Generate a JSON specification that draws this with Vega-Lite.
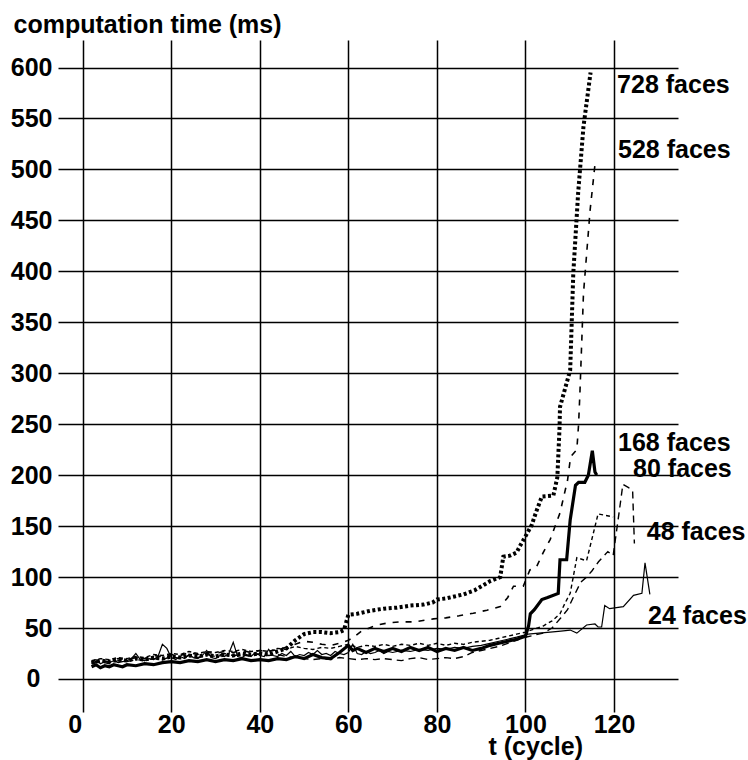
{
  "$schema": "https://vega.github.io/schema/vega-lite/v6.json",
  "width": 620,
  "height": 672,
  "padding": {"left": 58, "top": 40, "right": 70, "bottom": 48},
  "autosize": {"type": "none"},
  "background": "white",
  "config": {
    "view": {"stroke": null},
    "font": "Liberation Sans",
    "line": {"color": "black", "clip": true, "strokeCap": "butt", "strokeJoin": "miter"},
    "axis": {
      "labelFont": "Liberation Sans", "labelFontSize": 25, "labelFontWeight": "bold", "labelColor": "black",
      "titleFont": "Liberation Sans", "titleFontSize": 25, "titleFontWeight": "bold", "titleColor": "black",
      "domain": false, "ticks": false, "tickSize": 0,
      "gridColor": "black", "gridOpacity": 1, "gridWidth": 1.5
    }
  },
  "datasets": {
    "series": [
      {"s":"24","t":2,"v":17},{"s":"24","t":3,"v":19},{"s":"24","t":4,"v":15},{"s":"24","t":5,"v":17},{"s":"24","t":6,"v":16},{"s":"24","t":7,"v":18},{"s":"24","t":8,"v":16},{"s":"24","t":9,"v":17},{"s":"24","t":10,"v":18},{"s":"24","t":11,"v":20},{"s":"24","t":12,"v":25},{"s":"24","t":13,"v":19},{"s":"24","t":14,"v":18},{"s":"24","t":15,"v":20},{"s":"24","t":16,"v":19},{"s":"24","t":17,"v":22},{"s":"24","t":18,"v":34},{"s":"24","t":19,"v":30},{"s":"24","t":20,"v":21},{"s":"24","t":21,"v":19},{"s":"24","t":22,"v":22},{"s":"24","t":23,"v":20},{"s":"24","t":24,"v":24},{"s":"24","t":25,"v":21},{"s":"24","t":26,"v":20},{"s":"24","t":27,"v":23},{"s":"24","t":28,"v":28},{"s":"24","t":29,"v":21},{"s":"24","t":30,"v":20},{"s":"24","t":31,"v":23},{"s":"24","t":32,"v":22},{"s":"24","t":33,"v":25},{"s":"24","t":34,"v":36},{"s":"24","t":35,"v":22},{"s":"24","t":36,"v":21},{"s":"24","t":37,"v":24},{"s":"24","t":38,"v":22},{"s":"24","t":39,"v":26},{"s":"24","t":40,"v":23},{"s":"24","t":41,"v":22},{"s":"24","t":42,"v":29},{"s":"24","t":43,"v":23},{"s":"24","t":44,"v":22},{"s":"24","t":45,"v":25},{"s":"24","t":46,"v":23},{"s":"24","t":47,"v":27},{"s":"24","t":48,"v":22},{"s":"24","t":49,"v":24},{"s":"24","t":50,"v":23},{"s":"24","t":51,"v":26},{"s":"24","t":52,"v":24},{"s":"24","t":53,"v":28},{"s":"24","t":54,"v":24},{"s":"24","t":55,"v":25},{"s":"24","t":56,"v":23},{"s":"24","t":57,"v":27},{"s":"24","t":58,"v":25},{"s":"24","t":59,"v":24},{"s":"24","t":60,"v":26},{"s":"24","t":61,"v":34},{"s":"24","t":62,"v":25},{"s":"24","t":63,"v":24},{"s":"24","t":64,"v":27},{"s":"24","t":65,"v":25},{"s":"24","t":66,"v":26},{"s":"24","t":67,"v":28},{"s":"24","t":68,"v":25},{"s":"24","t":69,"v":27},{"s":"24","t":70,"v":26},{"s":"24","t":72,"v":28},{"s":"24","t":74,"v":27},{"s":"24","t":76,"v":29},{"s":"24","t":78,"v":28},{"s":"24","t":80,"v":30},{"s":"24","t":82,"v":29},{"s":"24","t":84,"v":31},{"s":"24","t":86,"v":30},{"s":"24","t":88,"v":32},{"s":"24","t":90,"v":33},{"s":"24","t":92,"v":35},{"s":"24","t":94,"v":37},{"s":"24","t":96,"v":39},{"s":"24","t":98,"v":41},{"s":"24","t":100.6,"v":44},{"s":"24","t":103,"v":45},{"s":"24","t":105.6,"v":46},{"s":"24","t":108,"v":47},{"s":"24","t":110.1,"v":48},{"s":"24","t":111.6,"v":45},{"s":"24","t":113.8,"v":53},{"s":"24","t":115.7,"v":54},{"s":"24","t":116.4,"v":51},{"s":"24","t":117.2,"v":51},{"s":"24","t":117.9,"v":72},{"s":"24","t":119,"v":69},{"s":"24","t":122.1,"v":71},{"s":"24","t":124.4,"v":82},{"s":"24","t":126.3,"v":84},{"s":"24","t":127,"v":114},{"s":"24","t":128.1,"v":83},

      {"s":"48","t":2,"v":15},{"s":"48","t":4,"v":17},{"s":"48","t":6,"v":15},{"s":"48","t":8,"v":18},{"s":"48","t":10,"v":17},{"s":"48","t":12,"v":19},{"s":"48","t":14,"v":18},{"s":"48","t":16,"v":20},{"s":"48","t":18,"v":19},{"s":"48","t":20,"v":22},{"s":"48","t":22,"v":20},{"s":"48","t":24,"v":23},{"s":"48","t":26,"v":21},{"s":"48","t":28,"v":24},{"s":"48","t":30,"v":22},{"s":"48","t":32,"v":25},{"s":"48","t":34,"v":23},{"s":"48","t":36,"v":24},{"s":"48","t":38,"v":22},{"s":"48","t":40,"v":25},{"s":"48","t":42,"v":23},{"s":"48","t":44,"v":24},{"s":"48","t":46,"v":22},{"s":"48","t":48,"v":21},{"s":"48","t":50,"v":20},{"s":"48","t":52,"v":19},{"s":"48","t":54,"v":20},{"s":"48","t":56,"v":19},{"s":"48","t":58,"v":21},{"s":"48","t":60,"v":20},{"s":"48","t":62,"v":19},{"s":"48","t":64,"v":20},{"s":"48","t":66,"v":19},{"s":"48","t":68,"v":20},{"s":"48","t":70,"v":19},{"s":"48","t":72,"v":18},{"s":"48","t":74,"v":20},{"s":"48","t":76,"v":21},{"s":"48","t":78,"v":19},{"s":"48","t":80,"v":20},{"s":"48","t":82,"v":21},{"s":"48","t":84,"v":20},{"s":"48","t":86,"v":22},{"s":"48","t":88,"v":26},{"s":"48","t":90,"v":28},{"s":"48","t":92,"v":30},{"s":"48","t":94,"v":32},{"s":"48","t":96,"v":35},{"s":"48","t":98,"v":38},{"s":"48","t":100,"v":41},{"s":"48","t":102,"v":43},{"s":"48","t":104,"v":45},{"s":"48","t":106,"v":50},{"s":"48","t":108,"v":60},{"s":"48","t":109.5,"v":68},{"s":"48","t":111,"v":82},{"s":"48","t":112.5,"v":95},{"s":"48","t":113.8,"v":100},{"s":"48","t":115,"v":106},{"s":"48","t":116.5,"v":115},{"s":"48","t":118.6,"v":125},{"s":"48","t":119.8,"v":121},{"s":"48","t":121.2,"v":165},{"s":"48","t":122,"v":191},{"s":"48","t":123.2,"v":188},{"s":"48","t":124.2,"v":185},{"s":"48","t":124.6,"v":133},

      {"s":"80","t":2,"v":12},{"s":"80","t":3,"v":14},{"s":"80","t":4,"v":11},{"s":"80","t":5,"v":13},{"s":"80","t":6,"v":12},{"s":"80","t":7,"v":14},{"s":"80","t":8,"v":13},{"s":"80","t":9,"v":12},{"s":"80","t":10,"v":14},{"s":"80","t":12,"v":13},{"s":"80","t":14,"v":15},{"s":"80","t":16,"v":14},{"s":"80","t":18,"v":16},{"s":"80","t":20,"v":17},{"s":"80","t":22,"v":16},{"s":"80","t":24,"v":18},{"s":"80","t":26,"v":17},{"s":"80","t":28,"v":19},{"s":"80","t":30,"v":17},{"s":"80","t":32,"v":19},{"s":"80","t":34,"v":18},{"s":"80","t":36,"v":20},{"s":"80","t":38,"v":18},{"s":"80","t":40,"v":19},{"s":"80","t":42,"v":18},{"s":"80","t":44,"v":20},{"s":"80","t":46,"v":19},{"s":"80","t":48,"v":22},{"s":"80","t":50,"v":20},{"s":"80","t":52,"v":24},{"s":"80","t":54,"v":21},{"s":"80","t":56,"v":20},{"s":"80","t":58,"v":26},{"s":"80","t":60,"v":33},{"s":"80","t":61,"v":28},{"s":"80","t":62,"v":30},{"s":"80","t":64,"v":26},{"s":"80","t":66,"v":30},{"s":"80","t":68,"v":27},{"s":"80","t":70,"v":30},{"s":"80","t":72,"v":27},{"s":"80","t":74,"v":31},{"s":"80","t":76,"v":28},{"s":"80","t":78,"v":31},{"s":"80","t":80,"v":27},{"s":"80","t":82,"v":30},{"s":"80","t":84,"v":28},{"s":"80","t":86,"v":31},{"s":"80","t":88,"v":28},{"s":"80","t":90,"v":30},{"s":"80","t":92,"v":33},{"s":"80","t":94,"v":35},{"s":"80","t":96,"v":37},{"s":"80","t":98,"v":39},{"s":"80","t":100,"v":42},{"s":"80","t":100.7,"v":52},{"s":"80","t":101.1,"v":64},{"s":"80","t":102,"v":68},{"s":"80","t":103.7,"v":78},{"s":"80","t":105,"v":80},{"s":"80","t":107.4,"v":84},{"s":"80","t":107.8,"v":117},{"s":"80","t":109.3,"v":117},{"s":"80","t":110.1,"v":156},{"s":"80","t":111.3,"v":190},{"s":"80","t":112,"v":193},{"s":"80","t":113.4,"v":193},{"s":"80","t":114.2,"v":200},{"s":"80","t":115.1,"v":224},{"s":"80","t":115.7,"v":203},{"s":"80","t":116.1,"v":200},

      {"s":"168","t":2,"v":18},{"s":"168","t":4,"v":20},{"s":"168","t":6,"v":19},{"s":"168","t":8,"v":21},{"s":"168","t":10,"v":20},{"s":"168","t":12,"v":22},{"s":"168","t":14,"v":21},{"s":"168","t":16,"v":24},{"s":"168","t":18,"v":23},{"s":"168","t":20,"v":25},{"s":"168","t":22,"v":24},{"s":"168","t":24,"v":27},{"s":"168","t":26,"v":25},{"s":"168","t":28,"v":27},{"s":"168","t":30,"v":26},{"s":"168","t":32,"v":28},{"s":"168","t":34,"v":27},{"s":"168","t":36,"v":29},{"s":"168","t":38,"v":27},{"s":"168","t":40,"v":28},{"s":"168","t":42,"v":27},{"s":"168","t":44,"v":30},{"s":"168","t":46,"v":29},{"s":"168","t":48,"v":32},{"s":"168","t":50,"v":30},{"s":"168","t":52,"v":29},{"s":"168","t":54,"v":31},{"s":"168","t":56,"v":30},{"s":"168","t":58,"v":32},{"s":"168","t":60,"v":34},{"s":"168","t":62,"v":31},{"s":"168","t":64,"v":33},{"s":"168","t":66,"v":32},{"s":"168","t":68,"v":34},{"s":"168","t":70,"v":32},{"s":"168","t":72,"v":34},{"s":"168","t":74,"v":33},{"s":"168","t":76,"v":35},{"s":"168","t":78,"v":33},{"s":"168","t":80,"v":35},{"s":"168","t":82,"v":33},{"s":"168","t":84,"v":35},{"s":"168","t":86,"v":34},{"s":"168","t":88,"v":36},{"s":"168","t":90,"v":37},{"s":"168","t":92,"v":38},{"s":"168","t":94,"v":40},{"s":"168","t":96,"v":42},{"s":"168","t":98,"v":44},{"s":"168","t":100,"v":46},{"s":"168","t":102,"v":49},{"s":"168","t":104,"v":52},{"s":"168","t":106,"v":57},{"s":"168","t":107.8,"v":64},{"s":"168","t":109,"v":75},{"s":"168","t":110.1,"v":84},{"s":"168","t":111.6,"v":119},{"s":"168","t":113.8,"v":116},{"s":"168","t":116.4,"v":162},{"s":"168","t":119.8,"v":159},

      {"s":"528","t":2,"v":16},{"s":"528","t":4,"v":18},{"s":"528","t":6,"v":17},{"s":"528","t":8,"v":20},{"s":"528","t":10,"v":19},{"s":"528","t":12,"v":21},{"s":"528","t":14,"v":20},{"s":"528","t":16,"v":23},{"s":"528","t":18,"v":22},{"s":"528","t":20,"v":24},{"s":"528","t":22,"v":23},{"s":"528","t":24,"v":26},{"s":"528","t":26,"v":24},{"s":"528","t":28,"v":26},{"s":"528","t":30,"v":25},{"s":"528","t":32,"v":27},{"s":"528","t":34,"v":26},{"s":"528","t":36,"v":28},{"s":"528","t":38,"v":26},{"s":"528","t":40,"v":28},{"s":"528","t":42,"v":27},{"s":"528","t":44,"v":29},{"s":"528","t":46,"v":31},{"s":"528","t":48,"v":34},{"s":"528","t":50,"v":37},{"s":"528","t":52,"v":36},{"s":"528","t":54,"v":34},{"s":"528","t":56,"v":33},{"s":"528","t":58,"v":35},{"s":"528","t":60,"v":38},{"s":"528","t":61.2,"v":41},{"s":"528","t":63,"v":47},{"s":"528","t":66.4,"v":53},{"s":"528","t":69,"v":55},{"s":"528","t":71.6,"v":56},{"s":"528","t":75,"v":56},{"s":"528","t":79.2,"v":59},{"s":"528","t":82,"v":60},{"s":"528","t":85,"v":62},{"s":"528","t":88.2,"v":64.5},{"s":"528","t":91.3,"v":67.5},{"s":"528","t":94.3,"v":71},{"s":"528","t":96,"v":80},{"s":"528","t":97.3,"v":91},{"s":"528","t":99.5,"v":91},{"s":"528","t":101,"v":107},{"s":"528","t":102.5,"v":110},{"s":"528","t":104,"v":124},{"s":"528","t":105.6,"v":137},{"s":"528","t":107.8,"v":163},{"s":"528","t":109.5,"v":195},{"s":"528","t":110.2,"v":218},{"s":"528","t":111.6,"v":225},{"s":"528","t":112,"v":250},{"s":"528","t":112.3,"v":281},{"s":"528","t":113.1,"v":378},{"s":"528","t":114.6,"v":460},{"s":"528","t":115.8,"v":509},

      {"s":"728","t":2,"v":16},{"s":"728","t":4,"v":18},{"s":"728","t":6,"v":17},{"s":"728","t":8,"v":19},{"s":"728","t":10,"v":18},{"s":"728","t":12,"v":20},{"s":"728","t":14,"v":19},{"s":"728","t":16,"v":21},{"s":"728","t":18,"v":20},{"s":"728","t":20,"v":22},{"s":"728","t":22,"v":21},{"s":"728","t":24,"v":23},{"s":"728","t":26,"v":22},{"s":"728","t":28,"v":24},{"s":"728","t":30,"v":22},{"s":"728","t":32,"v":24},{"s":"728","t":34,"v":23},{"s":"728","t":36,"v":25},{"s":"728","t":38,"v":24},{"s":"728","t":40,"v":25},{"s":"728","t":42,"v":24},{"s":"728","t":44,"v":27},{"s":"728","t":46,"v":30},{"s":"728","t":48,"v":38},{"s":"728","t":50,"v":44},{"s":"728","t":52,"v":46},{"s":"728","t":54,"v":46},{"s":"728","t":56,"v":45},{"s":"728","t":58,"v":46},{"s":"728","t":59,"v":48},{"s":"728","t":60,"v":63},{"s":"728","t":62,"v":64},{"s":"728","t":65,"v":67},{"s":"728","t":68,"v":69},{"s":"728","t":71,"v":70},{"s":"728","t":74,"v":72},{"s":"728","t":77,"v":73},{"s":"728","t":79,"v":75},{"s":"728","t":80,"v":78},{"s":"728","t":82,"v":79},{"s":"728","t":84,"v":81},{"s":"728","t":86,"v":83},{"s":"728","t":88.5,"v":87},{"s":"728","t":90.5,"v":92},{"s":"728","t":92,"v":96},{"s":"728","t":94.3,"v":100},{"s":"728","t":95,"v":120},{"s":"728","t":96.5,"v":121},{"s":"728","t":98,"v":124},{"s":"728","t":98.7,"v":130},{"s":"728","t":100,"v":140},{"s":"728","t":101.4,"v":151},{"s":"728","t":102.5,"v":165},{"s":"728","t":103.7,"v":179},{"s":"728","t":106.3,"v":180},{"s":"728","t":107.2,"v":198},{"s":"728","t":107.7,"v":247},{"s":"728","t":107.8,"v":267},{"s":"728","t":110.1,"v":303},{"s":"728","t":110.8,"v":398},{"s":"728","t":111.9,"v":477},{"s":"728","t":113.1,"v":542},{"s":"728","t":114.7,"v":595}
    ],
    "labels": [
      {"text":"728 faces","lx":120.7,"ly":583},
      {"text":"528 faces","lx":120.9,"ly":519},
      {"text":"168 faces","lx":120.9,"ly":232},
      {"text":"80 faces","lx":124.3,"ly":206},
      {"text":"48 faces","lx":127.4,"ly":144},
      {"text":"24 faces","lx":127.7,"ly":62}
    ]
  },
  "encoding": {
    "x": {
      "field": "t", "type": "quantitative",
      "scale": {"domain": [-5.58, 134.45], "nice": false, "zero": false},
      "axis": {
        "values": [0, 20, 40, 60, 80, 100, 120],
        "grid": true, "labelPadding": 0, "labelFlush": false,
        "labelOffset": {"condition": {"test": "datum.value === 0", "value": -8}, "value": 0},
        "title": "t (cycle)", "titleAnchor": "start", "titleAlign": "left", "titleBaseline": "alphabetic",
        "titleX": 430, "titleY": 42
      }
    },
    "y": {
      "field": "v", "type": "quantitative",
      "scale": {"domain": [-32.4, 627], "nice": false, "zero": false},
      "axis": {
        "values": [0, 50, 100, 150, 200, 250, 300, 350, 400, 450, 500, 550, 600],
        "grid": true, "labelFlush": false,
        "labelPadding": {"condition": {"test": "datum.value === 0", "value": 18}, "value": 6},
        "title": "computation time (ms)", "titleAngle": 0, "titleAlign": "left", "titleBaseline": "alphabetic",
        "titleX": -45, "titleY": -8
      }
    },
    "order": {"field": "t", "type": "quantitative"}
  },
  "layer": [
    {"data": {"name": "series"}, "transform": [{"filter": "datum.s === '24'"}], "mark": {"type": "line", "strokeWidth": 1.2}},
    {"data": {"name": "series"}, "transform": [{"filter": "datum.s === '48'"}], "mark": {"type": "line", "strokeWidth": 1.4, "strokeDash": [7, 5]}},
    {"data": {"name": "series"}, "transform": [{"filter": "datum.s === '168'"}], "mark": {"type": "line", "strokeWidth": 1.4, "strokeDash": [4, 3]}},
    {"data": {"name": "series"}, "transform": [{"filter": "datum.s === '528'"}], "mark": {"type": "line", "strokeWidth": 1.6, "strokeDash": [6, 7]}},
    {"data": {"name": "series"}, "transform": [{"filter": "datum.s === '80'"}], "mark": {"type": "line", "strokeWidth": 3.2}},
    {"data": {"name": "series"}, "transform": [{"filter": "datum.s === '728'"}], "mark": {"type": "line", "strokeWidth": 4, "strokeDash": [3, 2.5]}},
    {
      "data": {"name": "labels"},
      "mark": {"type": "text", "align": "left", "baseline": "middle", "font": "Liberation Sans", "fontSize": 25, "fontWeight": "bold", "color": "black", "clip": false},
      "encoding": {
        "x": {"field": "lx", "type": "quantitative"},
        "y": {"field": "ly", "type": "quantitative"},
        "text": {"field": "text"},
        "order": null
      }
    }
  ]
}
